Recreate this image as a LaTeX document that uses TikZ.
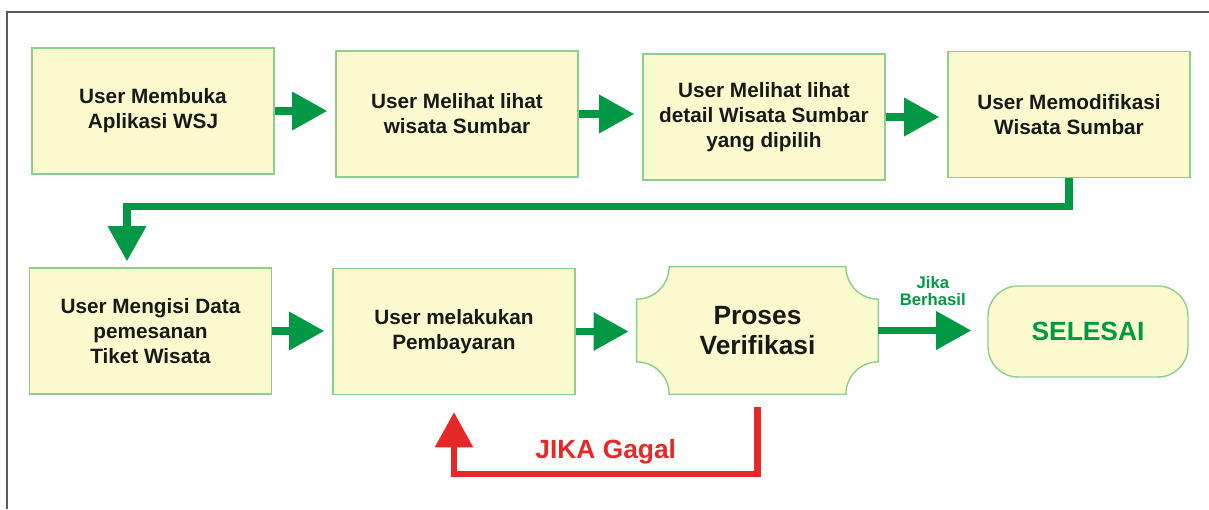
\documentclass[tikz,border=0pt]{standalone}
\usepackage{fontspec}
\setmainfont{Liberation Sans}
\usetikzlibrary{arrows.meta,backgrounds}
\definecolor{boxfill}{RGB}{251,249,206}
\definecolor{boxline}{RGB}{140,206,140}
\definecolor{flowgreen}{RGB}{0,152,68}
\definecolor{failred}{RGB}{230,40,40}
\definecolor{framegray}{RGB}{90,90,90}

\begin{document}
\begin{tikzpicture}[
box_style/.style={rectangle,draw=boxline,fill=boxfill,line width=0.8pt,minimum width=4.84cm,minimum height=2.52cm,align=center,font=\fontsize{11.8}{14.2}\selectfont\bfseries,text=black!90},
verif_style/.style={rectangle,minimum width=4.82cm,minimum height=2.54cm,align=center,font=\fontsize{15}{17}\selectfont\bfseries,text=black!90},
done_style/.style={rectangle,rounded corners=0.6cm,draw=boxline,fill=boxfill,line width=0.8pt,minimum width=4cm,minimum height=1.82cm,font=\fontsize{15}{17}\selectfont\bfseries,text=flowgreen},
arrow_style/.style={draw=flowgreen,line width=4pt,-{Triangle[length=20pt,width=21pt]}},
fail_style/.style={draw=failred,line width=3.5pt,-{Triangle[length=20pt,width=21pt]}},
ok_label/.style={align=center,font=\fontsize{9.5}{10}\selectfont\bfseries,text=flowgreen},
fail_label/.style={font=\fontsize{15}{17}\selectfont\bfseries,text=failred}]
\useasboundingbox (0,0) rectangle (24.18,-10.18);
\draw[framegray,line width=0.8pt] (0.14,-10.18) -- (0.14,-0.24) -- (24.18,-0.24);
% first row
\node[box_style] (b1) at (3.06,-2.22) {User Membuka\\Aplikasi WSJ};
\node[box_style] (b2) at (9.14,-2.28) {User Melihat lihat\\wisata Sumbar};
\node[box_style] (b3) at (15.28,-2.34) {User Melihat lihat\\detail Wisata Sumbar\\yang dipilih};
\node[box_style] (b4) at (21.38,-2.29) {User Memodifikasi\\Wisata Sumbar};
% second row
\node[box_style] (b5) at (3.01,-6.62) {User Mengisi Data\\pemesanan\\Tiket Wisata};
\node[box_style] (b6) at (9.08,-6.63) {User melakukan\\Pembayaran};
\node[verif_style] (verif) at (15.15,-6.61) {Proses\\Verifikasi};
\node[done_style] (done) at (21.76,-6.63) {SELESAI};
\begin{scope}[on background layer]
\draw[draw=boxline,fill=boxfill,line width=0.8pt]
  ([xshift=0.65cm]verif.north west) -- ([xshift=-0.65cm]verif.north east)
  arc[start angle=180,end angle=270,radius=0.65cm]
  -- ([yshift=0.65cm]verif.south east)
  arc[start angle=90,end angle=180,radius=0.65cm]
  -- ([xshift=0.65cm]verif.south west)
  arc[start angle=0,end angle=90,radius=0.65cm]
  -- ([yshift=-0.65cm]verif.north west)
  arc[start angle=270,end angle=360,radius=0.65cm] -- cycle;
\end{scope}
% connectors
\draw[arrow_style,shorten >=0.16cm] (b1.east) -- (b1.east -| b2.west);
\draw[arrow_style,shorten >=0.16cm] (b2.east) -- (b2.east -| b3.west);
\draw[arrow_style,shorten >=0.16cm] (b3.east) -- (b3.east -| b4.west);
\draw[arrow_style,shorten >=0.12cm] (b4.south) -- ++(0,-0.56) -| ([xshift=-0.47cm]b5.north);
\draw[arrow_style,shorten >=0.16cm] (b5.east) -- (b5.east -| b6.west);
\draw[arrow_style,shorten >=0.16cm] (b6.east) -- (b6.east -| verif.west);
\draw[arrow_style,shorten >=0.32cm] (verif.east) -- node[above=0.3cm,ok_label] {Jika\\Berhasil} (verif.east -| done.west);
\draw[fail_style,shorten <=0.26cm,shorten >=0.34cm] (verif.south) -- ++(0,-1.6) -| node[pos=0.25,above=1pt,fail_label] {JIKA Gagal} (b6.south);
\end{tikzpicture}
\end{document}
